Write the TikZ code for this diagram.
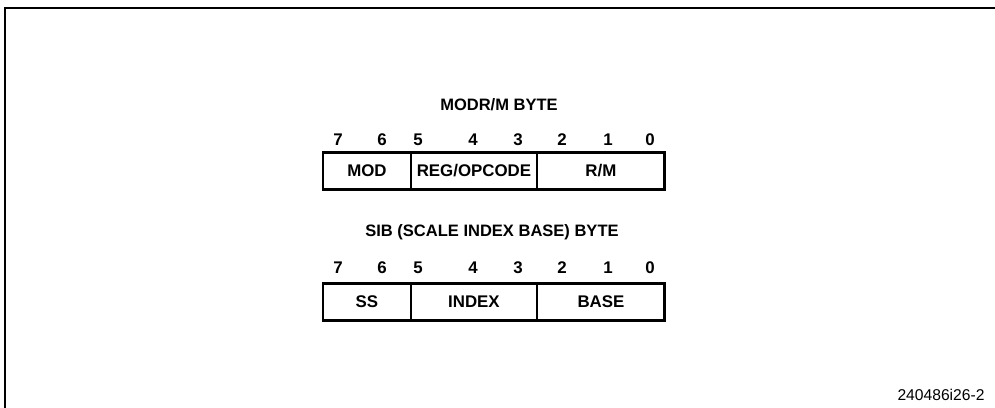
\documentclass[tikz,border=0pt]{standalone}
\usepackage{fontspec}
\setmainfont{Liberation Sans}
\usetikzlibrary{positioning}

\begin{document}
\begin{tikzpicture}[x=0.02cm,y=-0.02cm,
  field/.style={draw,line width=0.7pt,minimum height=0.75cm,inner sep=0pt,outer sep=0pt,
                anchor=west,font=\fontsize{9.6}{11}\selectfont\bfseries},
  bitnum/.style={font=\fontsize{9.6}{11}\selectfont\bfseries},
  title/.style={font=\fontsize{9.4}{11}\selectfont\bfseries},
]
\useasboundingbox (0,0) rectangle (995,408);
\draw[line width=1.6pt] (5,408) -- (5,8) -- (995,8);
% ModR/M byte
\node[title] (modrmtitle) at (499,105) {MODR/M BYTE};
\foreach \b/\x in {7/338,6/382,5/418,4/473,3/518,2/562,1/608,0/650}
  \node[bitnum] (m\b) at (\x,140) {\b};
\node[field,minimum width=1.76cm] (mod) at (323,171) {MOD};
\node[field,minimum width=2.52cm] (reg) at (mod.east) {REG/OPCODE};
\node[field,minimum width=2.56cm] (rm) at (reg.east) {R/M};
\draw[line width=1.7pt] (mod.north west) rectangle (rm.south east);
% SIB byte
\node[title] (sibtitle) at (492,232) {SIB (SCALE INDEX BASE) BYTE};
\foreach \b/\x in {7/338,6/382,5/418,4/473,3/518,2/562,1/608,0/650}
  \node[bitnum] (s\b) at (\x,268) {\b};
\node[field,minimum width=1.76cm] (ss) at (323,302) {SS};
\node[field,minimum width=2.52cm] (index) at (ss.east) {INDEX};
\node[field,minimum width=2.56cm] (base) at (index.east) {BASE};
\draw[line width=1.7pt] (ss.north west) rectangle (base.south east);
\node[font=\fontsize{8.9}{10}\selectfont] (figno) at (941,395) {240486i26-2};
\end{tikzpicture}
\end{document}
